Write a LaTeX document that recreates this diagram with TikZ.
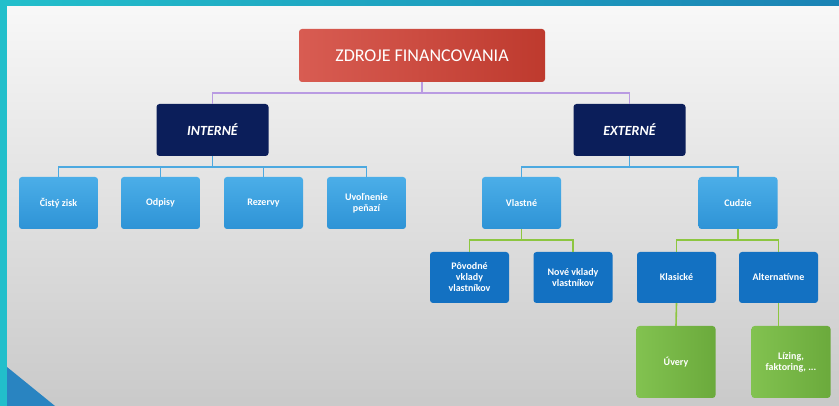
\documentclass[tikz,border=0pt]{standalone}
\usepackage{fontspec}
\setmainfont{Carlito}
\usetikzlibrary{positioning,calc}

\definecolor{frameteal}{HTML}{22BFCB}
\definecolor{frameblue}{HTML}{1A82B4}
\definecolor{redA}{HTML}{D85C52}
\definecolor{redB}{HTML}{BE3A2E}
\definecolor{navy}{HTML}{0B1E5A}
\definecolor{skyA}{HTML}{4BAEE8}
\definecolor{skyB}{HTML}{2E93D6}
\definecolor{midblue}{HTML}{1371C2}
\definecolor{grnA}{HTML}{82C250}
\definecolor{grnB}{HTML}{6BAA3C}
\definecolor{lnpurple}{HTML}{B99BE2}
\definecolor{lnblue}{HTML}{4CA9E0}
\definecolor{lngreen}{HTML}{8DC640}

\begin{document}
\begin{tikzpicture}[x=1pt,y=-1pt,
    box/.style={rounded corners=3pt, text=white, align=center, inner sep=1pt,
      font=\fontsize{10}{11}\selectfont\bfseries},
    rootbox/.style={box, left color=redA, right color=redB, minimum width=246pt,
      minimum height=53pt, font=\fontsize{18}{20}\selectfont},
    sidebox/.style={box, fill=navy, minimum width=112pt, minimum height=52pt,
      font=\fontsize{14}{16}\selectfont\bfseries\itshape},
    itembox/.style={box, top color=skyA, bottom color=skyB, minimum width=79pt, minimum height=52pt},
    subbox/.style={box, fill=midblue, minimum width=79pt, minimum height=51pt},
    leafbox/.style={box, left color=grnA, right color=grnB, minimum width=79pt, minimum height=72pt},
    link/.style={line width=1.6pt}]

% slide frame and background
\useasboundingbox (0,0) rectangle (839,406);
\shade[left color=frameteal, right color=frameblue] (0,0) rectangle (839,406);
\shade[top color=black!3, bottom color=black!21] (7,7) rectangle (839,406);
\fill[frameteal] (0,7) rectangle (7,406);
\fill[skyB!90!black] (7,367) -- (55,406) -- (7,406) -- cycle;

% nodes
\node[rootbox] (zdroje) at (422,55.5) {ZDROJE FINANCOVANIA};
\node[sidebox] (int) at (212.5,130) {INTERNÉ};
\node[sidebox] (ext) at (629.5,130) {EXTERNÉ};

\node[itembox] (cisty) at (58.5,203) {Čistý zisk};
\node[itembox] (odpisy) at (160.5,203) {Odpisy};
\node[itembox] (rezervy) at (263.5,203) {Rezervy};
\node[itembox] (uvol) at (366.5,203) {Uvoľnenie\\peňazí};

\node[itembox] (vlastne) at (521.5,203) {Vlastné};
\node[itembox] (cudzie) at (738,203) {Cudzie};

\node[subbox] (povodne) at (469.5,277.5) {Pôvodné\\vklady\\vlastníkov};
\node[subbox] (nove) at (573,277.5) {Nové vklady\\vlastníkov};
\node[subbox] (klasicke) at (676.5,277.5) {Klasické};
\node[subbox] (altern) at (778.5,277.5) {Alternatívne};

\node[leafbox] (uvery) at (676,362) {Úvery};
\node[leafbox] (lizing) at (791,362) {Lízing,\\faktoring, ...};

% connectors
\draw[link, lnpurple] (zdroje.south) -- ++(0,11) coordinate (rootbus);
\foreach \c in {int,ext} \draw[link, lnpurple] (rootbus) -| (\c.north);

\draw[link, lnblue] (int.south) -- ++(0,11) coordinate (intbus);
\foreach \c in {cisty,odpisy,rezervy,uvol} \draw[link, lnblue] (intbus) -| (\c.north);

\draw[link, lnblue] (ext.south) -- ++(0,11) coordinate (extbus);
\foreach \c in {vlastne,cudzie} \draw[link, lnblue] (extbus) -| (\c.north);

\draw[link, lngreen] (vlastne.south) -- ++(0,11) coordinate (vlbus);
\foreach \c in {povodne,nove} \draw[link, lngreen] (vlbus) -| (\c.north);

\draw[link, lngreen] (cudzie.south) -- ++(0,11) coordinate (cubus);
\foreach \c in {klasicke,altern} \draw[link, lngreen] (cubus) -| (\c.north);

\draw[link, lngreen] (klasicke.south) -- (uvery.north);
\draw[link, lngreen] (altern.south) -- (lizing.north -| altern.south);
\end{tikzpicture}
\end{document}
